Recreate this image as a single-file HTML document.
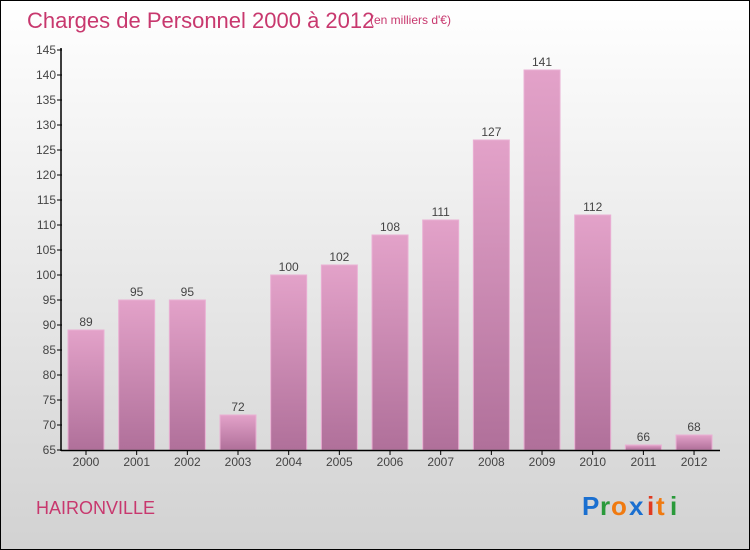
<!DOCTYPE html>
<html><head><meta charset="utf-8"><style>
body{margin:0}
#c{position:relative;width:748px;height:548px;border:1px solid #000;background:linear-gradient(#ffffff,#d2d2d2);font-family:"Liberation Sans",sans-serif;overflow:hidden}
</style></head><body>
<div id="c">
<svg width="748" height="548" viewBox="1 1 748 548" style="position:absolute;left:0;top:0">
<defs><linearGradient id="g" x1="0" y1="0" x2="0" y2="1"><stop offset="0" stop-color="#e3a2c9"/><stop offset="1" stop-color="#b0709a"/></linearGradient></defs>
<text x="27" y="28" font-size="22" fill="#c8386e">Charges de Personnel 2000 à 2012</text>
<text x="370" y="24" font-size="12" fill="#c8386e">(en milliers d'€)</text>
<g id="plot"></g>
<text x="36" y="514" font-size="18" fill="#c8386e">HAIRONVILLE</text>
<g font-size="26" font-weight="bold" font-family="'Liberation Sans',sans-serif">
<text x="582" y="515" fill="#1a6fd0">P</text><text x="600" y="515" fill="#2a9a3a">r</text><text x="611" y="515" fill="#f07a10">o</text><text x="629" y="515" fill="#1a6fd0">x</text><text x="647" y="515" fill="#e03a20">i</text><text x="656" y="515" fill="#f07a10">t</text><text x="670" y="515" fill="#2a9a3a">i</text>
</g>
</svg>
</div>
<script>
const years=["2000","2001","2002","2003","2004","2005","2006","2007","2008","2009","2010","2011","2012"];
const values=[89,95,95,72,100,102,108,111,127,141,112,66,68];
const ticks=[65,70,75,80,85,90,95,100,105,110,115,120,125,130,135,140,145];
const NS="http://www.w3.org/2000/svg";
const g=document.getElementById('plot');
const y=v=>450-(v-65)*5;
const x=i=>86+i*50.67;
function mk(t,a){const e=document.createElementNS(NS,t);for(const k in a)e.setAttribute(k,a[k]);g.appendChild(e);return e;}
ticks.forEach(t=>{
const l=mk('line',{x1:57,x2:62,y1:y(t),y2:y(t),stroke:'#000'});


const tx=mk('text',{x:56,y:y(t)+4,'font-size':12,'text-anchor':'end',fill:'#444'});
tx.textContent=t;


});
values.forEach((v,i)=>{
const r=mk('rect',{x:x(i)-18,y:y(v),width:36,height:450-y(v),fill:'url(#g)',stroke:'#eab0d4','stroke-width':1});


const lb=mk('text',{x:x(i),y:y(v)-4,'font-size':12,'text-anchor':'middle',fill:'#444'});
lb.textContent=v;


const tk=mk('line',{x1:x(i),x2:x(i),y1:450,y2:455,stroke:'#000'});


const yl=mk('text',{x:x(i),y:466,'font-size':12,'text-anchor':'middle',fill:'#444'});
yl.textContent=years[i];


});
const ya=mk('line',{x1:61,x2:61,y1:48,y2:451,stroke:'#000','stroke-width':1.5});


const xa=mk('line',{x1:61,x2:720,y1:450.5,y2:450.5,stroke:'#000','stroke-width':1.5});


</script>
</body></html>
